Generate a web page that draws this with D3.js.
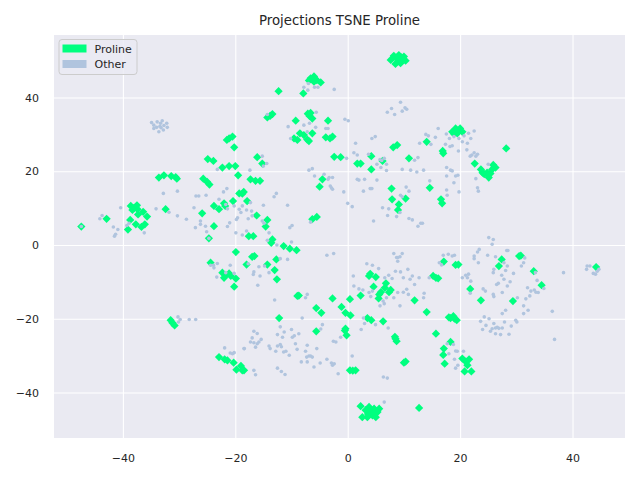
<!DOCTYPE html>
<html>
<head>
<meta charset="utf-8">
<script src="https://cdn.jsdelivr.net/npm/d3@7"></script>
<style>
  body { margin: 0; background: #fff; }
  text { font-family: "DejaVu Sans", sans-serif; }
</style>
</head>
<body>
<svg id="chart"></svg>
<script>
// tick values
const xTicks = [-40, -20, 0, 20, 40];
const yTicks = [-40, -20, 0, 20, 40];

// TSNE coordinates of the Proline points
const prolinePts = [
  [-21.1,28.9],[-20.5,29.4],[-21.5,28.5],[-20.2,26.5],[-24.9,23.3],[-23.9,22.8],
  [-33.6,18.3],[-32.7,18.9],[-31.4,18.7],[-30.6,18.4],[-30.4,18.0],
  [-25.7,18.0],[-25.0,17.1],[-24.6,16.4],[-22.3,21.0],[-21.1,21.4],[-20.0,21.4],
  [-19.5,18.9],[-19.3,14.0],[-18.75,13.9],[-20.4,11.9],[-22.0,11.3],[-21.8,10.6],[-23.8,10.6],
  [-22.9,9.7],[-25.9,8.6],[-23.8,5.1],[-24.7,1.8],[-19.9,-1.9],[-24.4,-4.8],
  [-22.3,-7.5],[-21.7,-8.2],[-21.1,-7.7],[-22.0,-8.9],[-20.8,-8.4],[-19.9,-9.1],[-20.2,-11.3],
  [-42.9,7.1],[-47.4,5.0],
  [-38.0,10.1],[-38.6,10.6],[-37.5,10.75],[-38.3,9.5],[-37.4,9.7],[-37.3,8.3],[-36.4,9.0],
  [-35.7,7.7],[-38.7,6.8],[-37.7,5.6],[-39.1,4.2],[-36.7,4.9],[-36.1,5.6],[-32.4,9.7],
  [-31.5,-20.4],[-31.2,-21.1],[-30.8,-21.8],
  [-22.9,-30.4],[-21.9,-31.0],[-21.4,-31.3],[-20.3,-31.9],[-19.8,-33.8],[-19.0,-32.8],[-18.75,-34.0],[-18.45,-34.0],
  [7.65,50.2],[8.2,51.3],[9.1,51.5],[10.0,51.1],[10.3,50.0],[9.4,49.3],[8.5,49.1],[8.9,50.4],[9.7,50.4],[8.6,50.8],[9.5,50.9],
  [-6.0,45.7],[-6.6,45.2],[-5.5,44.7],[-4.8,44.1],[-6.9,44.6],[-6.0,44.3],
  [-12.3,41.7],[-7.9,41.1],[-13.8,35.0],[-14.3,34.6],[-13.4,35.5],[-9.25,33.7],
  [-6.8,35.0],[-7.1,35.6],[-6.3,34.3],[-6.6,35.8],[-3.5,33.7],
  [-8.5,30.3],[-7.8,29.8],[-6.9,28.2],[-7.2,28.6],[-6.3,30.3],[-9.55,28.9],[-8.96,28.5],
  [-3.9,29.2],[-2.7,29.4],[-3.15,28.9],[8.1,26.5],[8.8,27.1],[14.05,28.0],
  [-16.1,23.8],[-15.2,22.1],[-2.4,23.9],[-1.25,23.8],[4.2,24.1],[6.2,22.8],[10.9,23.5],[1.7,22.1],[2.3,22.1],
  [-17.3,17.8],[-16.4,17.4],[-15.6,17.4],[-18.5,14.4],[-17.9,11.9],[-16.2,8.0],[-14.3,6.8],[-14.6,5.0],
  [-17.6,2.4],[-16.8,2.4],[-13.4,1.5],[-13.6,0.6],[-11.4,-0.3],[-10.3,-1.0],[-9.1,-1.4],
  [-17.0,-3.2],[-16.6,-3.0],[-18.0,-5.3],[-12.7,-3.9],[-14.3,-5.3],[-13.0,-6.8],[-12.6,-9.3],
  [-8.96,-13.8],[-8.7,-13.7],[-2.7,-14.5],[0.4,-14.7],[-6.3,7.0],[-5.5,7.6],[-4.5,17.8],[-5.0,15.8],
  [4.2,20.5],[7.8,15.3],[7.9,12.4],[10.3,12.6],[9.1,11.0],[8.95,9.5],[14.6,15.5],
  [4.0,-7.8],[3.8,-8.4],[5.0,-8.7],[4.6,-11.3],[5.9,-12.8],[5.6,-13.4],[6.8,-10.4],[6.6,-11.6],
  [7.35,-12.8],[7.65,-12.2],[2.3,-13.7],[5.5,-14.5],[11.9,-15.0],[15.2,-8.4],
  [-12.2,-19.8],[-5.6,-17.1],[-4.7,-18.4],[-5.6,-23.4],[-1.1,-16.8],[-0.4,-18.4],[0.5,-19.1],
  [3.5,-19.8],[4.2,-20.4],[6.3,-20.7],[-0.4,-22.7],[-0.2,-24.5],[-0.5,-23.2],
  [8.5,-25.4],[8.7,-26.1],[8.4,-24.9],[10.0,-31.9],[10.3,-31.6],[0.4,-34.0],[1.4,-34.0],[0.9,-34.1],
  [2.3,-43.7],[3.2,-44.8],[3.8,-43.9],[4.7,-44.4],[5.3,-45.3],[4.4,-46.2],[3.5,-46.7],[2.6,-46.7],
  [5.0,-46.7],[4.1,-44.9],[4.6,-45.5],[5.6,-44.4],[3.6,-45.8],[12.7,-44.2],[14.05,-18.2],
  [18.6,30.7],[19.2,31.6],[20.0,31.6],[20.4,30.7],[19.5,30.3],[18.9,30.2],[19.8,30.9],[19.4,31.1],
  [17.0,24.85],[16.9,25.5],[28.2,26.2],[22.6,22.1],[25.9,21.7],
  [23.7,20.5],[24.3,19.2],[25.1,18.3],[25.7,20.5],[26.3,21.0],[24.8,19.6],[24.0,19.6],[25.4,19.4],
  [16.6,12.4],[16.8,11.3],[17.1,-4.5],[19.2,-5.4],[19.7,-5.3],[15.7,-8.9],[16.1,-9.05],
  [27.4,-3.9],[30.5,-3.0],[30.8,-2.9],[26.9,-5.7],[33.1,-7.1],[34.5,-10.9],[21.8,-11.9],
  [23.7,-15.0],[29.4,-15.2],[44.2,-6.0],
  [18.3,-19.8],[18.0,-19.6],[19.0,-20.0],[19.4,-20.4],[18.8,-19.3],[15.7,-24.05],[18.3,-26.3],
  [17.1,-28.1],[17.0,-29.8],[17.25,-32.2],[20.4,-30.8],[21.0,-31.6],[21.3,-32.6],[21.6,-31.0],
  [20.8,-34.3],[22.0,-34.3]
];

// TSNE coordinates of all other points
const otherPts = [
  [-34.5,32.5],[-33.9,33.4],[-33.0,33.7],[-32.2,33.0],[-32.1,31.9],[-32.8,31.2],[-33.6,30.7],
  [-34.5,31.6],[-33.4,32.2],[-32.7,32.4],[-34.0,31.9],[-33.3,33.0],[-34.9,33.2],[-33.2,31.8],
  [-40.4,10.1],[-43.7,8.0],[-44.1,7.1],[-41.7,4.9],[-40.9,4.2],[-41.3,2.9],[-41.5,2.4],
  [-39.3,5.3],[-38.9,5.9],[-36.2,3.3],[-47.4,5.0],[-32.8,14.0],[-30.3,14.6],[-34.1,9.8],
  [-31.8,8.9],[-30.3,7.9],[-28.7,7.0],[-27.0,13.3],[-26.5,13.3],[-25.2,13.5],[-27.35,10.1],
  [-26.2,6.5],[-25.3,5.1],[-27.1,4.7],[-26.2,5.6],[-25.1,3.6],[-23.2,20.5],[-21.5,15.3],
  [-22.1,14.4],[-22.9,12.4],[-21.7,11.0],[-21.4,9.8],[-20.2,10.6],[-19.3,9.7],[-19.0,8.8],
  [-18.75,10.6],[-19.8,6.9],[-19.6,7.4],[-21.0,6.0],[-21.4,5.0],[-19.9,3.3],[-18.75,2.7],
  [-23.9,-5.5],[-23.2,-5.0],[-24.4,-5.5],[-23.8,-6.2],[-21.7,-7.5],[-20.9,-5.5],[-20.2,-7.7],
  [-23.3,-8.7],[-24.7,1.8],
  [-30.2,-19.5],[-29.8,-20.2],[-30.1,-20.9],[-28.2,-20.2],[-27.05,-20.2],
  [-21.9,-27.9],[-20.9,-29.3],[-20.5,-29.5],[-20.2,-29.2],[-18.4,-28.1],
  [-7.0,43.8],[-7.8,42.8],[-5.9,42.8],[-5.3,42.8],[-7.1,42.0],[-2.4,42.2],[9.4,38.7],[7.05,36.0],
  [7.8,37.0],[8.35,35.4],[10.2,37.2],[10.5,36.8],[9.7,36.3],[-14.3,35.4],[-5.6,36.0],[-10.6,32.1],
  [-7.8,32.5],[-6.8,33.0],[-5.7,31.9],[-3.9,31.6],[-3.5,31.6],[-7.2,30.7],[-10.15,28.9],[-0.5,34.1],
  [0.1,33.7],[1.4,27.6],[4.3,28.9],[4.9,29.4],[1.1,25.0],[1.7,24.4],[3.7,24.6],[5.75,23.2],
  [6.05,22.9],[6.5,23.5],[5.2,21.9],[6.9,21.9],[13.9,30.0],[14.35,29.6],[12.8,27.6],[14.8,27.3],
  [-15.2,24.1],[-14.4,22.1],[-0.2,23.5],[11.9,23.0],[12.5,23.7],
  [16.1,31.6],[15.6,29.2],[17.55,30.1],[18.1,28.9],[18.9,29.4],[19.8,28.9],[20.7,29.6],[21.5,30.3],
  [21.9,28.9],[22.5,30.9],[20.4,28.0],[21.3,27.6],[18.6,26.9],[18.2,26.7],[17.4,27.3],[19.7,25.5],
  [21.2,25.8],[22.1,24.4],[22.5,25.0],[23.1,24.6],[22.8,24.1],[21.8,24.1],[25.0,21.9],
  [-17.4,20.3],[-15.0,21.4],[-6.9,20.3],[-6.3,20.7],[-5.9,18.7],[-4.2,19.2],[-3.3,18.3],[-2.7,18.3],
  [-3.5,17.8],[-2.9,15.5],[-2.7,15.1],[-0.7,14.4],[-3.1,16.0],[-13.1,13.1],[-12.7,14.0],[-10.7,10.8],
  [-9.9,5.3],[-10.3,4.7],[-6.6,6.2],[0.0,11.3],[0.8,10.4],[-15.0,10.8],[-17.3,11.5],[-18.0,9.5],
  [-17.1,9.2],[-17.7,7.1],[-17.0,7.9],[-15.2,6.5],[-14.9,5.9],[-14.0,3.3],[-18.0,3.8],[-14.3,1.3],
  [-12.6,0.0],[-10.0,0.8],[-3.7,-2.8],[-2.5,-2.3],[-10.7,-3.9],[-12.0,-3.7],[-15.8,-5.9],[-14.8,-5.7],
  [-16.7,-7.3],[-14.0,-7.5],[-15.6,-8.4],[-16.8,-8.0],[-16.0,-10.9],[-13.0,-14.9],[-7.2,-13.4],
  [-7.5,-14.3],[-17.7,-5.1],
  [1.7,17.8],[2.0,17.6],[3.0,17.8],[5.2,17.6],[4.0,15.3],[4.3,15.3],[2.8,14.6],[6.2,10.1],[7.3,9.8],
  [8.7,7.7],[7.1,8.0],[4.6,6.5],[9.4,13.5],[9.7,13.1],[10.4,15.7],[10.9,14.6],[9.3,8.8],[10.9,7.2],
  [11.5,6.8],[12.5,5.1],[13.0,5.9],[13.3,5.9],[14.6,17.4],[9.7,20.5],[11.2,20.3],[12.3,19.8],
  [13.5,20.3],[5.9,21.0],[6.9,20.2],
  [8.2,-2.3],[8.7,-3.4],[8.9,-3.4],[9.7,-2.3],[8.9,-4.4],[9.3,-3.2],[4.4,-5.5],[5.5,-6.4],[3.4,-5.1],
  [1.0,-8.4],[1.1,-11.1],[2.0,-11.9],[2.7,-12.2],[3.8,-12.9],[4.4,-12.5],[4.1,-14.0],[6.6,-8.9],
  [7.3,-8.2],[7.9,-9.1],[8.5,-7.1],[9.4,-7.3],[9.9,-8.9],[10.7,-6.6],[11.1,-9.3],[11.5,-8.4],
  [11.9,-10.7],[10.5,-12.0],[9.9,-12.8],[8.9,-12.9],[8.2,-14.3],[10.8,-13.4],[13.6,-13.1],
  [13.5,-14.3],[12.7,-8.9],[14.5,-8.9],[6.9,-14.3],[6.3,-15.2],
  [17.6,21.0],[18.3,20.3],[18.6,20.1],[19.2,18.7],[19.6,18.9],[17.6,18.7],[18.9,16.9],[17.6,14.9],
  [17.7,13.5],[19.8,14.4],[23.1,15.5],[23.25,14.6],[22.8,18.0],
  [25.1,2.0],[25.9,1.5],[25.7,0.2],[23.4,-1.2],[23.1,-1.9],[28.3,-1.5],[28.5,-1.5],[24.9,-2.8],
  [22.5,-3.0],[22.5,-3.7],[23.25,-4.8],[26.3,-3.2],[17.0,-2.8],[17.9,-2.5],[18.6,-3.0],[19.0,-2.8],
  [16.3,-4.8],[16.7,-5.4],[27.8,-4.8],[28.4,-5.7],[31.3,-4.8],[31.5,-3.5],[30.9,-5.7],[26.0,-6.6],
  [25.9,-7.5],[28.1,-6.9],[29.5,-7.7],[33.4,-7.5],[27.4,-8.2],[27.8,-9.3],[28.9,-9.95],[26.8,-10.4],
  [26.5,-10.7],[28.4,-11.1],[33.7,-9.6],[32.0,-11.6],[33.2,-12.2],[32.6,-12.5],[33.5,-12.8],
  [33.9,-12.9],[34.9,-11.8],[32.4,-13.8],[31.7,-14.6],[24.1,-11.9],[24.5,-12.5],[25.9,-13.4],
  [26.0,-14.0],[27.5,-12.9],[30.2,-14.3],[20.4,-8.9],[21.0,-8.2],[21.5,-7.9],[21.9,-9.8],[21.3,-8.9],
  [21.8,-13.1],[38.4,-7.5],[42.6,-5.7],[43.1,-5.7],[42.5,-6.6],[43.7,-7.7],[44.4,-7.1],[44.7,-6.6],
  [44.1,-7.9],
  [-8.1,-19.8],[-4.5,-21.6],[-4.8,-22.8],[2.8,-19.8],[3.0,-21.3],[2.4,-22.9],[4.95,-21.6],
  [5.75,-16.5],[6.5,-15.9],[9.3,-16.5],[7.2,-22.5],[6.5,-42.6],[0.8,-30.1],[6.35,-35.8],[7.05,-36.1],
  [-17.0,-25.2],[-16.7,-23.4],[-16.1,-24.0],[-15.4,-25.6],[-16.7,-26.5],[-16.1,-26.8],[-16.4,-27.7],
  [-15.8,-26.3],[-17.3,-26.3],[-18.45,-28.1],[-14.0,-27.4],[-13.8,-28.1],[-12.5,-24.3],[-12.0,-22.2],
  [-11.3,-23.6],[-11.6,-25.0],[-10.0,-22.9],[-9.85,-25.0],[-9.5,-24.6],[-8.7,-24.05],[-12.5,-27.4],
  [-12.0,-27.0],[-11.8,-27.6],[-11.0,-28.8],[-11.4,-29.0],[-12.8,-28.8],[-9.3,-26.8],[-9.0,-28.3],
  [-10.4,-29.9],[-7.2,-27.2],[-7.5,-28.8],[-5.5,-28.1],[-6.9,-30.1],[-7.3,-30.4],[-6.3,-30.4],
  [-6.6,-30.1],[-8.25,-31.7],[-7.2,-31.7],[-4.9,-32.0],[-3.7,-31.0],[-2.9,-32.0],[-2.4,-32.2],
  [-2.7,-32.6],[-6.0,-33.1],[-1.7,-34.9],[-2.55,-26.1],[-2.1,-26.3],[-1.25,-25.0],[-12.5,-33.4],
  [-11.8,-34.3],[-11.15,-35.1],[-16.7,-34.0],[-16.4,-35.2],
  [17.7,-26.8],[18.8,-27.0],[18.0,-29.5],[19.2,-28.75],[19.5,-28.8],[20.6,-28.8],[19.0,-31.0],
  [19.6,-32.6],[19.2,-33.4],[24.3,-19.5],[25.15,-20.0],[23.65,-20.7],[24.6,-21.8],[24.0,-22.9],
  [26.0,-21.3],[26.3,-22.5],[26.6,-22.3],[26.9,-22.6],[25.7,-22.7],[25.4,-23.4],[26.3,-24.05],
  [27.2,-24.3],[27.5,-22.5],[27.9,-20.9],[29.1,-22.0],[30.1,-20.9],[29.9,-20.4],[27.5,-18.6],
  [28.1,-17.7],[31.3,-18.6],[32.1,-17.7],[31.3,-16.5],[36.4,-18.0],[36.8,-25.6],[28.7,-24.2]
];

const legendItems = [
  {label: 'Proline', color: '#00ff7f'},
  {label: 'Other', color: '#b0c4de'}
];

const W = 640, H = 480;
const margin = {top: 35, right: 15, bottom: 42, left: 54};
const width = W - margin.left - margin.right;
const height = H - margin.top - margin.bottom;

const svg = d3.select('#chart')
  .attr('width', W)
  .attr('height', H);

const g = svg.append('g')
  .attr('transform', `translate(${margin.left},${margin.top})`);

g.append('rect')
  .attr('width', width)
  .attr('height', height)
  .attr('fill', '#eaeaf2');

const xScale = d3.scaleLinear().domain([-52.26, 49.34]).range([0, width]);
const yScale = d3.scaleLinear().domain([-52.34, 56.95]).range([height, 0]);

const fmt = d => (d < 0 ? '\u2212' + Math.abs(d) : '' + d);

const xAxis = g.append('g')
  .attr('transform', `translate(0,${height})`)
  .call(d3.axisBottom(xScale).tickValues(xTicks).tickSize(-height).tickPadding(16).tickFormat(fmt));

const yAxis = g.append('g')
  .call(d3.axisLeft(yScale).tickValues(yTicks).tickSize(-width).tickPadding(15).tickFormat(fmt));

[xAxis, yAxis].forEach(ax => {
  ax.select('.domain').remove();
  ax.selectAll('line').attr('stroke', '#fff').attr('stroke-width', 1.1);
  ax.selectAll('text')
    .attr('fill', '#262626')
    .style('font-size', '11px')
    .style('font-family', '"DejaVu Sans", sans-serif');
});

const plot = g.append('g');

// rotated square = diamond marker
const diamond = d3.symbol().type(d3.symbolSquare).size(34);

plot.selectAll('.pro')
  .data(prolinePts)
  .join('path')
  .attr('class', 'pro')
  .attr('d', diamond)
  .attr('transform', d => `translate(${xScale(d[0])},${yScale(d[1])}) rotate(45)`)
  .attr('fill', legendItems[0].color);

plot.selectAll('.oth')
  .data(otherPts)
  .join('circle')
  .attr('class', 'oth')
  .attr('cx', d => xScale(d[0]))
  .attr('cy', d => yScale(d[1]))
  .attr('r', 1.8)
  .attr('fill', legendItems[1].color);

// title
svg.append('text')
  .attr('x', margin.left + width / 2)
  .attr('y', 25)
  .attr('text-anchor', 'middle')
  .attr('fill', '#262626')
  .style('font-size', '13.3px')
  .text('Projections TSNE Proline');

// legend
const legend = g.append('g').attr('transform', 'translate(5,4.5)');
legend.append('rect')
  .attr('width', 78)
  .attr('height', 35)
  .attr('rx', 3)
  .attr('fill', '#eaeaf2')
  .attr('fill-opacity', 0.8)
  .attr('stroke', '#cccccc')
  .attr('stroke-width', 1);

const items = legend.selectAll('.item')
  .data(legendItems)
  .join('g')
  .attr('transform', (d, i) => `translate(3.5,${5 + i * 15.5})`);

items.append('rect')
  .attr('width', 24)
  .attr('height', 8)
  .attr('fill', d => d.color);

items.append('text')
  .attr('x', 32)
  .attr('y', 8)
  .attr('fill', '#262626')
  .style('font-size', '11px')
  .text(d => d.label);
</script>
</body>
</html>
